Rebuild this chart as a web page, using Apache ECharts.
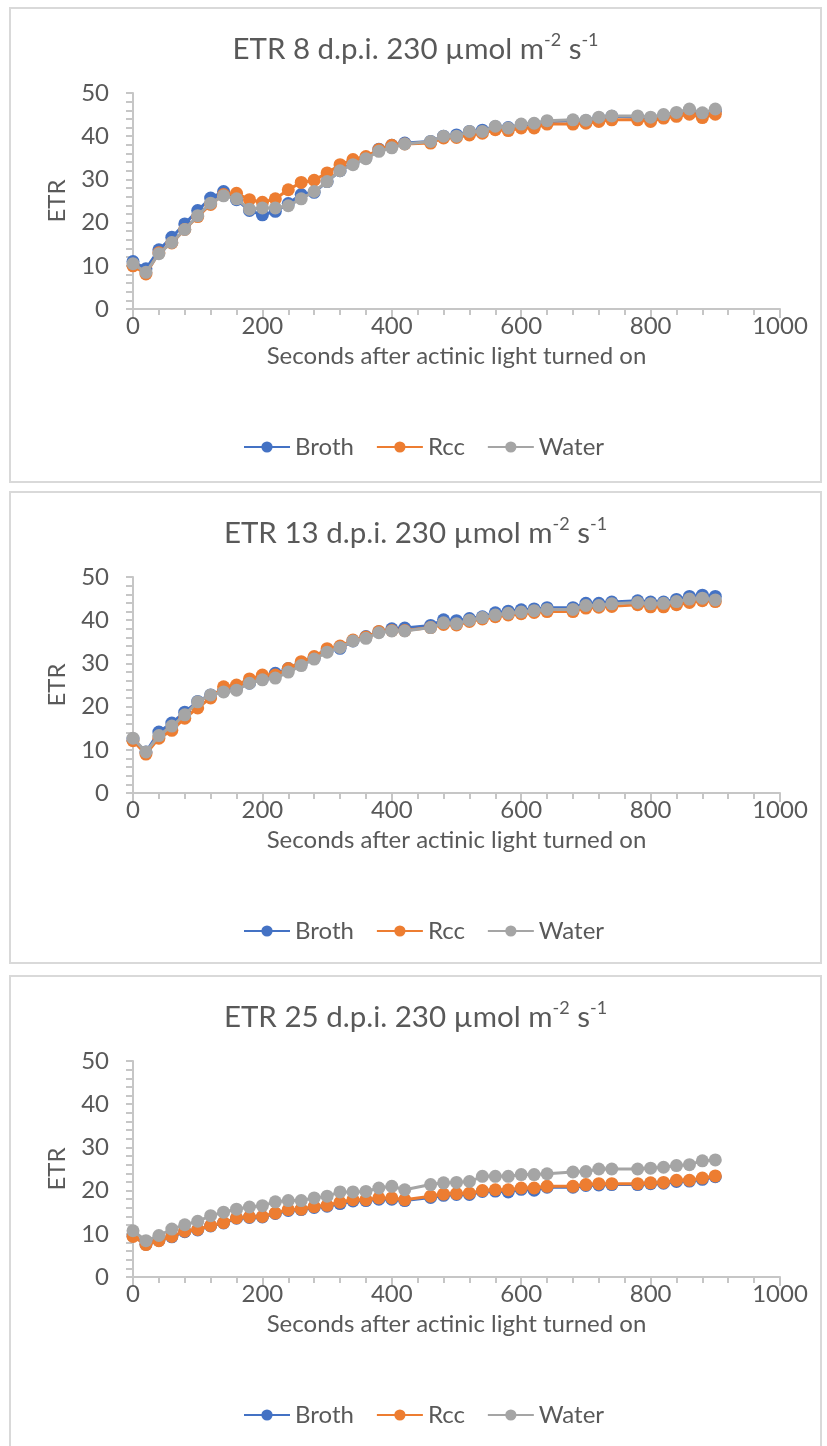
<!DOCTYPE html>
<html>
<head>
<meta charset="utf-8">
<script src="https://cdn.jsdelivr.net/npm/echarts@6/dist/echarts.min.js"></script>
<style>
  html, body { margin: 0; padding: 0; background: #ffffff; width: 827px; height: 1446px; overflow: hidden; position: relative; }
  .panel { position: absolute; left: 9px; width: 813px; box-sizing: border-box; border: 2px solid #d9d9d9; background: #fff; }
  .chart { width: 100%; height: 100%; }
</style>
</head>
<body>
<div class="panel" id="p1" style="top:7px;height:476px;"><div class="chart" id="c1"></div></div>
<div class="panel" id="p2" style="top:491px;height:473px;"><div class="chart" id="c2"></div></div>
<div class="panel" id="p3" style="top:975px;height:480px;"><div class="chart" id="c3"></div></div>
<script>
// ---- data ----
const seconds = [0,20,40,60,80,100,120,140,160,180,200,220,240,260,280,300,320,340,360,380,400,420,
  460,480,500,520,540,560,580,600,620,640,680,700,720,740,780,800,820,840,860,880,900];

const titles = ['ETR 8 d.p.i. 230 µmol m', 'ETR 13 d.p.i. 230 µmol m', 'ETR 25 d.p.i. 230 µmol m'];
const seriesNames = ['Broth', 'Rcc', 'Water'];
const xTicks = [0, 200, 400, 600, 800, 1000];
const yTicks = [0, 10, 20, 30, 40, 50];

const broth8 = [11.0,9.3,13.7,16.6,19.7,22.8,25.7,27.2,25.3,22.8,21.8,22.6,24.4,26.5,27.0,29.5,32.0,33.8,35.0,37.0,37.9,38.4,
  38.8,40.0,40.3,41.1,41.4,42.2,42.0,42.6,42.8,43.4,43.6,43.6,44.2,44.6,44.4,44.1,44.7,45.2,45.9,45.0,45.8];
const rcc8 = [10.0,8.1,13.0,15.3,18.4,21.4,24.2,26.5,26.8,25.3,24.7,25.5,27.6,29.3,29.8,31.5,33.4,34.6,35.3,36.9,37.9,38.2,
  38.4,39.6,39.7,40.3,40.7,41.5,41.3,41.9,41.9,42.8,42.8,43.0,43.4,43.8,43.8,43.4,44.2,44.6,45.1,44.3,45.1];
const water8 = [10.5,8.5,12.8,15.4,18.4,21.6,24.5,26.2,25.5,23.1,23.4,23.4,23.9,25.5,27.2,29.5,32.0,33.4,34.8,36.5,37.3,38.2,
  38.8,40.0,40.0,41.1,41.1,42.3,41.9,42.8,43.0,43.6,43.8,43.7,44.4,44.7,44.7,44.4,45.0,45.5,46.3,45.4,46.3];

const broth13 = [12.5,9.5,14.1,16.2,18.7,21.2,22.7,23.6,24.2,25.4,26.4,27.7,28.8,30.0,31.2,32.9,33.5,35.2,36.2,37.3,38.0,38.2,
  38.8,40.1,39.9,40.4,40.8,41.7,42.1,42.4,42.6,42.9,42.9,43.9,43.9,44.2,44.5,44.2,44.2,44.8,45.5,45.8,45.5];
const rcc13 = [12.1,9.0,12.7,14.5,17.3,19.7,22.0,24.6,25.0,26.4,27.3,27.3,28.8,30.4,31.6,33.4,34.0,35.4,36.1,37.4,37.6,37.6,
  38.3,39.0,38.9,39.7,40.3,40.8,41.2,41.5,41.8,42.0,42.0,42.8,43.0,43.2,43.6,43.1,43.1,43.6,44.1,44.5,44.3];
const water13 = [12.7,9.5,13.3,15.5,18.1,21.1,22.7,23.4,23.8,25.4,26.2,26.6,28.0,29.5,31.0,32.6,33.7,35.2,35.8,37.1,37.5,37.5,
  38.3,39.4,39.2,40.0,40.6,41.2,41.6,41.9,42.2,42.5,42.5,43.4,43.4,43.8,44.1,43.8,43.9,44.3,44.9,45.1,44.7];

const broth25 = [9.5,7.6,8.5,9.3,10.5,10.9,11.8,12.5,13.6,13.8,13.9,14.7,15.4,15.6,16.1,16.4,17.0,17.6,17.7,18.0,18.0,17.7,
  18.4,18.9,19.1,19.1,19.8,19.9,19.7,20.3,20.1,20.8,20.8,21.2,21.3,21.4,21.4,21.6,21.7,22.1,22.2,22.6,23.2];
const rcc25 = [9.4,7.5,8.4,9.4,10.6,11.0,11.9,12.6,13.7,13.9,14.0,14.8,15.6,15.7,16.3,16.6,17.3,17.9,17.9,18.3,18.3,17.9,
  18.7,19.2,19.3,19.4,20.0,20.2,20.2,20.6,20.6,21.0,21.0,21.4,21.6,21.6,21.6,21.8,21.9,22.4,22.4,22.9,23.4];
const water25 = [10.7,8.4,9.6,11.1,12.1,12.9,14.2,15.0,15.7,16.2,16.5,17.4,17.7,17.7,18.3,18.7,19.7,19.7,19.8,20.6,21.0,20.2,
  21.4,21.8,21.9,22.1,23.3,23.3,23.3,23.7,23.7,23.9,24.3,24.4,25.0,25.0,25.0,25.2,25.4,25.8,26.0,26.9,27.1];

const panels = [
  { id: 'c1', title: titles[0], data: [broth8, rcc8, water8] },
  { id: 'c2', title: titles[1], data: [broth13, rcc13, water13] },
  { id: 'c3', title: titles[2], data: [broth25, rcc25, water25] }
];

const colors = ['#4472C4', '#ED7D31', '#A5A5A5'];
const FONT = 'Lato, "Open Sans", sans-serif';
const TXT = '#595959';
const AX = '#c6c6c6';

function pairs(arr) { return seconds.map((s, i) => [s, arr[i]]); }

function buildOption(p) {
  return {
    animation: false,
    textStyle: { fontFamily: FONT, color: TXT },
    title: {
      text: '{n|' + p.title + '}{s|-2}{n| s}{s|-1}',
      left: 'center',
      top: 19,
      padding: 0,
      textStyle: {
        fontWeight: 'normal',
        rich: {
          n: { fontFamily: FONT, fontSize: 29.5, fontWeight: 'normal', color: TXT, lineHeight: 36, verticalAlign: 'bottom' },
          s: { fontFamily: FONT, fontSize: 18, fontWeight: 'normal', color: TXT, lineHeight: 36, verticalAlign: 'top', padding: [3, 0, 0, 0] }
        }
      }
    },
    legend: {
      data: seriesNames.map(n => ({ name: n, itemStyle: { borderWidth: 0 } })),
      top: 426,
      left: 232,
      padding: 0,
      itemWidth: 46,
      itemHeight: 14,
      itemGap: 22,
      textStyle: { fontFamily: FONT, fontSize: 24, color: TXT }
    },
    grid: { left: 122, top: 84, width: 647, height: 216, containLabel: false },
    xAxis: {
      type: 'value',
      min: 0, max: 1000, interval: 200,
      name: 'Seconds after actinic light turned on',
      nameLocation: 'middle',
      nameGap: 35,
      nameTextStyle: { fontFamily: FONT, fontSize: 24, color: TXT },
      axisLine: { show: true, onZero: false, lineStyle: { color: AX, width: 2 } },
      axisTick: { show: true, length: 9, lineStyle: { color: AX, width: 2 } },
      minorTick: { show: true, splitNumber: 5, length: 6, lineStyle: { color: AX, width: 2 } },
      splitLine: { show: false },
      minorSplitLine: { show: false },
      axisLabel: { margin: 5, fontFamily: FONT, fontSize: 24, color: TXT,
        formatter: v => String(v) }
    },
    yAxis: {
      type: 'value',
      min: 0, max: 50, interval: 10,
      name: 'ETR',
      nameLocation: 'middle',
      nameGap: 64,
      nameRotate: 90,
      nameTextStyle: { fontFamily: FONT, fontSize: 24, color: TXT },
      axisLine: { show: true, lineStyle: { color: AX, width: 2 } },
      axisTick: { show: true, length: 7, lineStyle: { color: AX, width: 2 } },
      minorTick: { show: true, splitNumber: 5, length: 7, lineStyle: { color: AX, width: 2 } },
      splitLine: { show: false },
      minorSplitLine: { show: false },
      axisLabel: { margin: 24, fontFamily: FONT, fontSize: 24, color: TXT, formatter: v => String(v) }
    },
    series: seriesNames.map((name, k) => ({
      name: name,
      type: 'line',
      data: pairs(p.data[k]),
      symbol: 'circle',
      symbolSize: 13,
      showSymbol: true,
      lineStyle: { color: colors[k], width: 3 },
      itemStyle: { color: colors[k], borderWidth: 0 },
      emphasis: { disabled: true },
      z: 2 + k
    }))
  };
}

panels.forEach(p => {
  const chart = echarts.init(document.getElementById(p.id), null, { renderer: 'canvas' });
  chart.setOption(buildOption(p));
});
</script>
</body>
</html>
